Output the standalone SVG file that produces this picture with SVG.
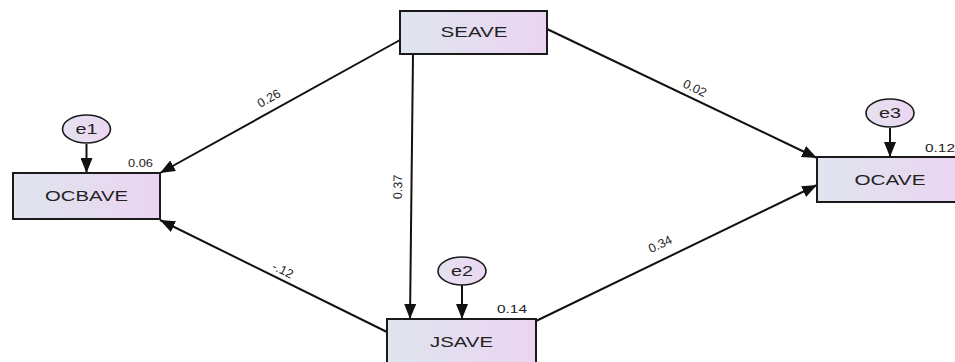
<svg xmlns="http://www.w3.org/2000/svg" width="955" height="362" viewBox="0 0 955 362">
  <defs>
    <linearGradient id="boxFill" x1="0" y1="0" x2="1" y2="0">
      <stop offset="0" stop-color="#dfe5ee"/>
      <stop offset="1" stop-color="#ebd4f2"/>
    </linearGradient>
    <linearGradient id="errFill" x1="0" y1="0" x2="1" y2="0">
      <stop offset="0" stop-color="#e4e2f0"/>
      <stop offset="1" stop-color="#ecd6f2"/>
    </linearGradient>
    <marker id="arrow" viewBox="0 0 15 12" refX="15" refY="6" markerWidth="15" markerHeight="12" markerUnits="userSpaceOnUse" orient="auto">
      <path d="M0,0 L15,6 L0,12 z" fill="#111"/>
    </marker>
    <style>
      .box { fill: url(#boxFill); stroke: #1a1a1a; stroke-width: 2; }
      .err { fill: url(#errFill); stroke: #1a1a1a; stroke-width: 1.6; }
      .name { font-family: "Liberation Sans", Arial, sans-serif; font-size: 15px; fill: #222; text-anchor: middle; }
      .ename { font-family: "Liberation Sans", Arial, sans-serif; font-size: 14px; fill: #222; text-anchor: middle; }
      .num { font-family: "Liberation Sans", Arial, sans-serif; font-size: 11px; fill: #222; }
      .coef { font-family: "Liberation Sans", Arial, sans-serif; font-size: 12.5px; fill: #222; text-anchor: middle; }
      .path { stroke: #111; stroke-width: 2; fill: none; marker-end: url(#arrow); }
    </style>
  </defs>

  <!-- regression paths -->
  <g id="connectors">
    <line class="path" x1="400" y1="40" x2="160" y2="173"/>
    <line class="path" x1="547" y1="29" x2="817" y2="158"/>
    <line class="path" x1="413" y1="54" x2="410" y2="319"/>
    <line class="path" x1="387" y1="332" x2="160" y2="220"/>
    <line class="path" x1="536" y1="321" x2="817" y2="185"/>
    <line class="path" x1="86.5" y1="144" x2="86.5" y2="173"/>
    <line class="path" x1="890" y1="128" x2="890" y2="157"/>
    <line class="path" x1="462" y1="285" x2="462" y2="319"/>
  </g>

  <!-- path coefficients -->
  <g id="coefficients">
    <text class="coef" transform="translate(271,102) rotate(-29)">0.26</text>
    <text class="coef" transform="translate(693,92) rotate(25.5)">0.02</text>
    <text class="coef" transform="translate(402,187) rotate(-89)">0.37</text>
    <text class="coef" transform="translate(281,274) rotate(26.3)">-.12</text>
    <text class="coef" transform="translate(662,248) rotate(-25.8)">0.34</text>
  </g>

  <g id="SEAVE">
    <rect class="box" x="400" y="11" width="147" height="43"/>
    <text class="name" x="474" y="37" textLength="67" lengthAdjust="spacingAndGlyphs">SEAVE</text>
  </g>

  <g id="OCBAVE">
    <rect class="box" x="13" y="173" width="147" height="46"/>
    <text class="name" x="86.5" y="201" textLength="83" lengthAdjust="spacingAndGlyphs">OCBAVE</text>
    <text class="num" x="128" y="167" textLength="25" lengthAdjust="spacingAndGlyphs">0.06</text>
  </g>

  <g id="OCAVE">
    <rect class="box" x="817" y="157" width="147" height="45"/>
    <text class="name" x="890" y="185" textLength="71" lengthAdjust="spacingAndGlyphs">OCAVE</text>
    <text class="num" x="925" y="152" textLength="30" lengthAdjust="spacingAndGlyphs">0.12</text>
  </g>

  <g id="JSAVE">
    <rect class="box" x="387" y="319" width="149" height="46"/>
    <text class="name" x="461.5" y="347" textLength="63" lengthAdjust="spacingAndGlyphs">JSAVE</text>
    <text class="num" x="497" y="313" textLength="30" lengthAdjust="spacingAndGlyphs">0.14</text>
  </g>

  <g id="e1">
    <ellipse class="err" cx="86.5" cy="129" rx="24" ry="14"/>
    <text class="ename" x="86.5" y="134" textLength="22" lengthAdjust="spacingAndGlyphs">e1</text>
  </g>

  <g id="e2">
    <ellipse class="err" cx="462" cy="271" rx="24" ry="14"/>
    <text class="ename" x="462" y="276" textLength="22" lengthAdjust="spacingAndGlyphs">e2</text>
  </g>

  <g id="e3">
    <ellipse class="err" cx="890" cy="113" rx="24" ry="14"/>
    <text class="ename" x="890" y="118" textLength="22" lengthAdjust="spacingAndGlyphs">e3</text>
  </g>
</svg>
